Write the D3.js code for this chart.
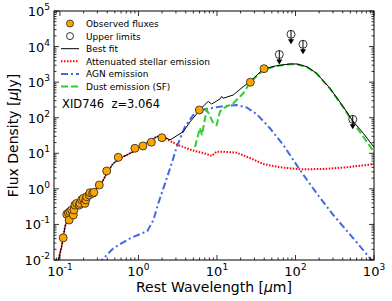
<!DOCTYPE html>
<html>
<head>
<meta charset="utf-8">
<script src="https://cdn.jsdelivr.net/npm/d3@7"></script>
<style>
  body { margin: 0; background: #fff; }
  text { font-family: "DejaVu Sans", sans-serif; fill: #000; }
</style>
</head>
<body>
<div id="chart"></div>
<script>
// canvas
var w = 392;
var h = 301;
var margin = {top: 11, right: 18, bottom: 41, left: 54};

// observed photometry (rest wavelength in micron, flux in microJy)
var obsWave = [0.110, 0.122, 0.128, 0.131, 0.134, 0.141, 0.148, 0.151, 0.155, 0.163, 0.176, 0.180,
  0.189, 0.198, 0.208, 0.214, 0.219, 0.236, 0.241, 0.261, 0.271, 0.317, 0.394, 0.553,
  0.90, 1.14, 1.46, 1.99, 5.96, 26.6, 39.7];
var obsFlux = [0.042, 0.193, 0.21, 0.133, 0.23, 0.255, 0.184, 0.255, 0.35, 0.39, 0.35, 0.39,
  0.49, 0.54, 0.39, 0.49, 0.60, 0.67, 0.78, 0.75, 0.80, 1.28, 3.18, 7.7,
  13.8, 16.1, 20.5, 27.4, 165, 997, 2390];

// upper limits
var limWave = [62.2, 87.7, 124.7, 536];
var limFlux = [5990, 22100, 11600, 90];

// attenuated stellar emission
var starWave = [0.0944, 0.105, 0.116, 0.122, 0.142, 0.180, 0.241, 0.340, 0.394, 0.478, 0.640, 0.859,
  1.15, 1.71, 2.01, 2.52, 3.18, 4.03, 4.94, 7.39, 8.56, 9.91, 12.0, 17.8, 26.3, 38.9,
  63.5, 114, 226, 449, 1000];
var starFlux = [0.009, 0.0237, 0.0863, 0.119, 0.209, 0.315, 0.67, 1.43, 2.74, 5.23, 8.0, 11.1,
  17.1, 29.3, 30.6, 22.2, 17.1, 14.1, 12.0, 9.55, 8.4, 11.1, 11.1, 10.4, 7.38, 5.0,
  4.04, 3.55, 3.61, 4.04, 4.95];

// best fit (total)
var fitWave = [0.0944, 0.105, 0.116, 0.122, 0.142, 0.180, 0.241, 0.340, 0.394, 0.478, 0.640, 0.859,
  1.15, 1.71, 2.01, 2.52, 3.72, 4.53, 5.51, 5.96, 7.03, 7.74, 8.56, 9.91, 10.9, 11.5, 12.0,
  16.1, 21.6, 26.3, 38.9, 57.6, 85.1, 104, 139, 186, 275, 406, 545, 731, 1000];
var fitFlux = [0.009, 0.0237, 0.0863, 0.119, 0.209, 0.315, 0.67, 1.43, 2.74, 5.23, 8.0, 11.1,
  17.1, 29.3, 30.6, 23.7, 40.5, 76, 128, 165, 235, 286, 243, 295, 336, 395, 352,
  435, 745, 1030, 2340, 2900, 3240, 3240, 2720, 1770, 671, 204, 77.3, 36.5, 14.8];

// AGN emission
var agnWave = [0.305, 0.478, 0.780, 1.30, 1.55, 1.79, 2.18, 2.65, 3.07, 3.91, 4.99, 6.38, 8.15,
  12.0, 17.8, 23.9, 32.0, 47.3, 70.0, 114, 186, 303, 545, 889, 1030];
var agnFlux = [0.0077, 0.0213, 0.0407, 0.0653, 0.133, 0.393, 1.43, 5.23, 15.0, 56.0, 119, 165, 184,
  210, 228, 194, 127, 50.5, 17.1, 3.39, 0.75, 0.184, 0.0407, 0.0112, 0.0077];

// dust emission (star formation)
var dustWave = [5.25, 6.07, 6.44, 6.83, 7.39, 8.15, 8.98, 9.91, 10.9, 12.0, 16.1, 21.6, 26.3, 38.9,
  57.6, 85.1, 104, 139, 186, 275, 406, 545, 731, 1000];
var dustFlux = [15.0, 51.4, 32.7, 66.6, 165, 112, 69.7, 62.4, 148, 184, 254, 486, 966, 2200,
  2850, 3200, 3200, 2690, 1740, 655, 195, 72, 29.2, 10.8];

// ticks
var xMajor = [0.1, 1, 10, 100, 1000];
var xExp = ["-1", "0", "1", "2", "3"];
var yMajor = [0.01, 0.1, 1, 10, 100, 1000, 10000, 100000];
var yExp = ["-2", "-1", "0", "1", "2", "3", "4", "5"];

var iw = w - margin.left - margin.right;
var ih = h - margin.top - margin.bottom;

var svg = d3.select("#chart")
  .append("svg")
  .attr("width", w)
  .attr("height", h);

svg.append("defs").append("clipPath")
  .attr("id", "clip")
  .append("rect")
  .attr("width", iw)
  .attr("height", ih);

var g = svg.append("g")
  .attr("transform", "translate(" + margin.left + "," + margin.top + ")");

var x = d3.scaleLog().domain([0.084, 1000]).range([0, iw]);
var y = d3.scaleLog().domain([0.01, 100000]).range([ih, 0]);

function pairs(xs, ys) {
  return xs.map(function(v, i) { return [v, ys[i]]; });
}

var line = d3.line()
  .x(function(d) { return x(d[0]); })
  .y(function(d) { return y(d[1]); });

var plot = g.append("g").attr("clip-path", "url(#clip)");

//AGN
plot.append("path")
  .attr("d", line(pairs(agnWave, agnFlux)))
  .attr("fill", "none")
  .attr("stroke", "#4169e1")
  .attr("stroke-width", 2)
  .attr("stroke-dasharray", "7,3,2,3");

//dust
plot.append("path")
  .attr("d", line(pairs(dustWave, dustFlux)))
  .attr("fill", "none")
  .attr("stroke", "#32cd32")
  .attr("stroke-width", 2)
  .attr("stroke-dasharray", "7,3");

//stellar
plot.append("path")
  .attr("d", line(pairs(starWave, starFlux)))
  .attr("fill", "none")
  .attr("stroke", "#ff0000")
  .attr("stroke-width", 2)
  .attr("stroke-dasharray", "1.5,1.5");

//best fit
plot.append("path")
  .attr("d", line(pairs(fitWave, fitFlux)))
  .attr("fill", "none")
  .attr("stroke", "#000")
  .attr("stroke-width", 1);

//observed points
plot.selectAll("circle.obs")
  .data(pairs(obsWave, obsFlux))
  .enter()
  .append("circle")
  .attr("class", "obs")
  .attr("cx", function(d) { return x(d[0]); })
  .attr("cy", function(d) { return y(d[1]); })
  .attr("r", 4)
  .attr("fill", "#ffa500")
  .attr("stroke", "#222")
  .attr("stroke-width", 0.8);

//upper limits: stem, arrow head, open circle
var lims = plot.selectAll("g.lim")
  .data(pairs(limWave, limFlux))
  .enter()
  .append("g")
  .attr("class", "lim")
  .attr("transform", function(d) {
    return "translate(" + x(d[0]) + "," + y(d[1]) + ")";
  });
lims.append("line")
  .attr("x1", 0).attr("x2", 0)
  .attr("y1", -4).attr("y2", 8)
  .attr("stroke", "#000")
  .attr("stroke-width", 1);
lims.append("path")
  .attr("d", "M-3,5L3,5L0,10Z")
  .attr("fill", "#000");
lims.append("circle")
  .attr("r", 4)
  .attr("fill", "none")
  .attr("stroke", "#000")
  .attr("stroke-width", 0.8);

//minor tick positions
function minors(lo, hi) {
  var out = [];
  for (var e = lo; e < hi; e++) {
    for (var k = 2; k <= 9; k++) out.push(k * Math.pow(10, e));
  }
  return out;
}
var xMinor = minors(-2, 3).filter(function(v) { return v >= 0.084 && v <= 1000; });
var yMinor = minors(-2, 5);

var ticks = g.append("g").attr("stroke", "#000").attr("stroke-width", 0.8);
function tickSet(vals, len, isX) {
  vals.forEach(function(v) {
    if (isX) {
      var p = x(v);
      ticks.append("line").attr("x1", p).attr("x2", p).attr("y1", ih).attr("y2", ih - len);
      ticks.append("line").attr("x1", p).attr("x2", p).attr("y1", 0).attr("y2", len);
    } else {
      var q = y(v);
      ticks.append("line").attr("x1", 0).attr("x2", len).attr("y1", q).attr("y2", q);
      ticks.append("line").attr("x1", iw).attr("x2", iw - len).attr("y1", q).attr("y2", q);
    }
  });
}
tickSet(xMajor, 5, true);
tickSet(xMinor, 2.5, true);
tickSet(yMajor, 5, false);
tickSet(yMinor, 2.5, false);

//frame
g.append("rect")
  .attr("width", iw)
  .attr("height", ih)
  .attr("fill", "none")
  .attr("stroke", "#000")
  .attr("stroke-width", 1);

//x tick labels
xMajor.forEach(function(v, i) {
  var t = g.append("text")
    .attr("x", x(v))
    .attr("y", ih + 16)
    .attr("text-anchor", "middle")
    .attr("font-size", "13px");
  t.append("tspan").text("10");
  t.append("tspan").attr("dy", -6).attr("font-size", "9px").text(xExp[i]);
});

//y tick labels
yMajor.forEach(function(v, i) {
  var t = g.append("text")
    .attr("x", -4)
    .attr("y", y(v) + 5)
    .attr("text-anchor", "end")
    .attr("font-size", "13px");
  t.append("tspan").text("10");
  t.append("tspan").attr("dy", -6).attr("font-size", "9px").text(yExp[i]);
});

//axis titles
svg.append("text")
  .attr("x", margin.left + iw / 2)
  .attr("y", 292)
  .attr("text-anchor", "middle")
  .attr("font-size", "14px")
  .html("Rest Wavelength [<tspan font-style='italic'>μ</tspan>m]");

svg.append("text")
  .attr("transform", "translate(18," + (margin.top + ih / 2) + ") rotate(-90)")
  .attr("text-anchor", "middle")
  .attr("font-size", "14px")
  .html("Flux Density [<tspan font-style='italic'>μ</tspan>Jy]");

//legend
var legendLabels = ["Observed fluxes", "Upper limits", "Best fit", "Attenuated stellar emission",
  "AGN emission", "Dust emission (SF)"];
var leg = svg.append("g");
legendLabels.forEach(function(lab, i) {
  var ly = 23.5 + i * 12.6;
  leg.append("text")
    .attr("x", 86)
    .attr("y", ly + 3.5)
    .attr("font-size", "9px")
    .text(lab);
});
leg.append("circle").attr("cx", 70).attr("cy", 23.5).attr("r", 3.5)
  .attr("fill", "#ffa500").attr("stroke", "#222").attr("stroke-width", 0.8);
leg.append("circle").attr("cx", 70).attr("cy", 36.1).attr("r", 3.5)
  .attr("fill", "none").attr("stroke", "#000").attr("stroke-width", 0.8);
var legLines = [
  {y: 48.7, c: "#000", sw: 1, dash: null},
  {y: 61.3, c: "#ff0000", sw: 2, dash: "1.5,1.5"},
  {y: 73.9, c: "#4169e1", sw: 2, dash: "7,3,2,3"},
  {y: 86.5, c: "#32cd32", sw: 2, dash: "7,3"}
];
legLines.forEach(function(d) {
  leg.append("line")
    .attr("x1", 61).attr("x2", 79)
    .attr("y1", d.y).attr("y2", d.y)
    .attr("stroke", d.c)
    .attr("stroke-width", d.sw)
    .attr("stroke-dasharray", d.dash);
});

svg.append("text")
  .attr("x", 62)
  .attr("y", 107.5)
  .attr("font-size", "11.5px")
  .style("white-space", "pre")
  .text("XID746  z=3.064");
</script>
</body>
</html>
